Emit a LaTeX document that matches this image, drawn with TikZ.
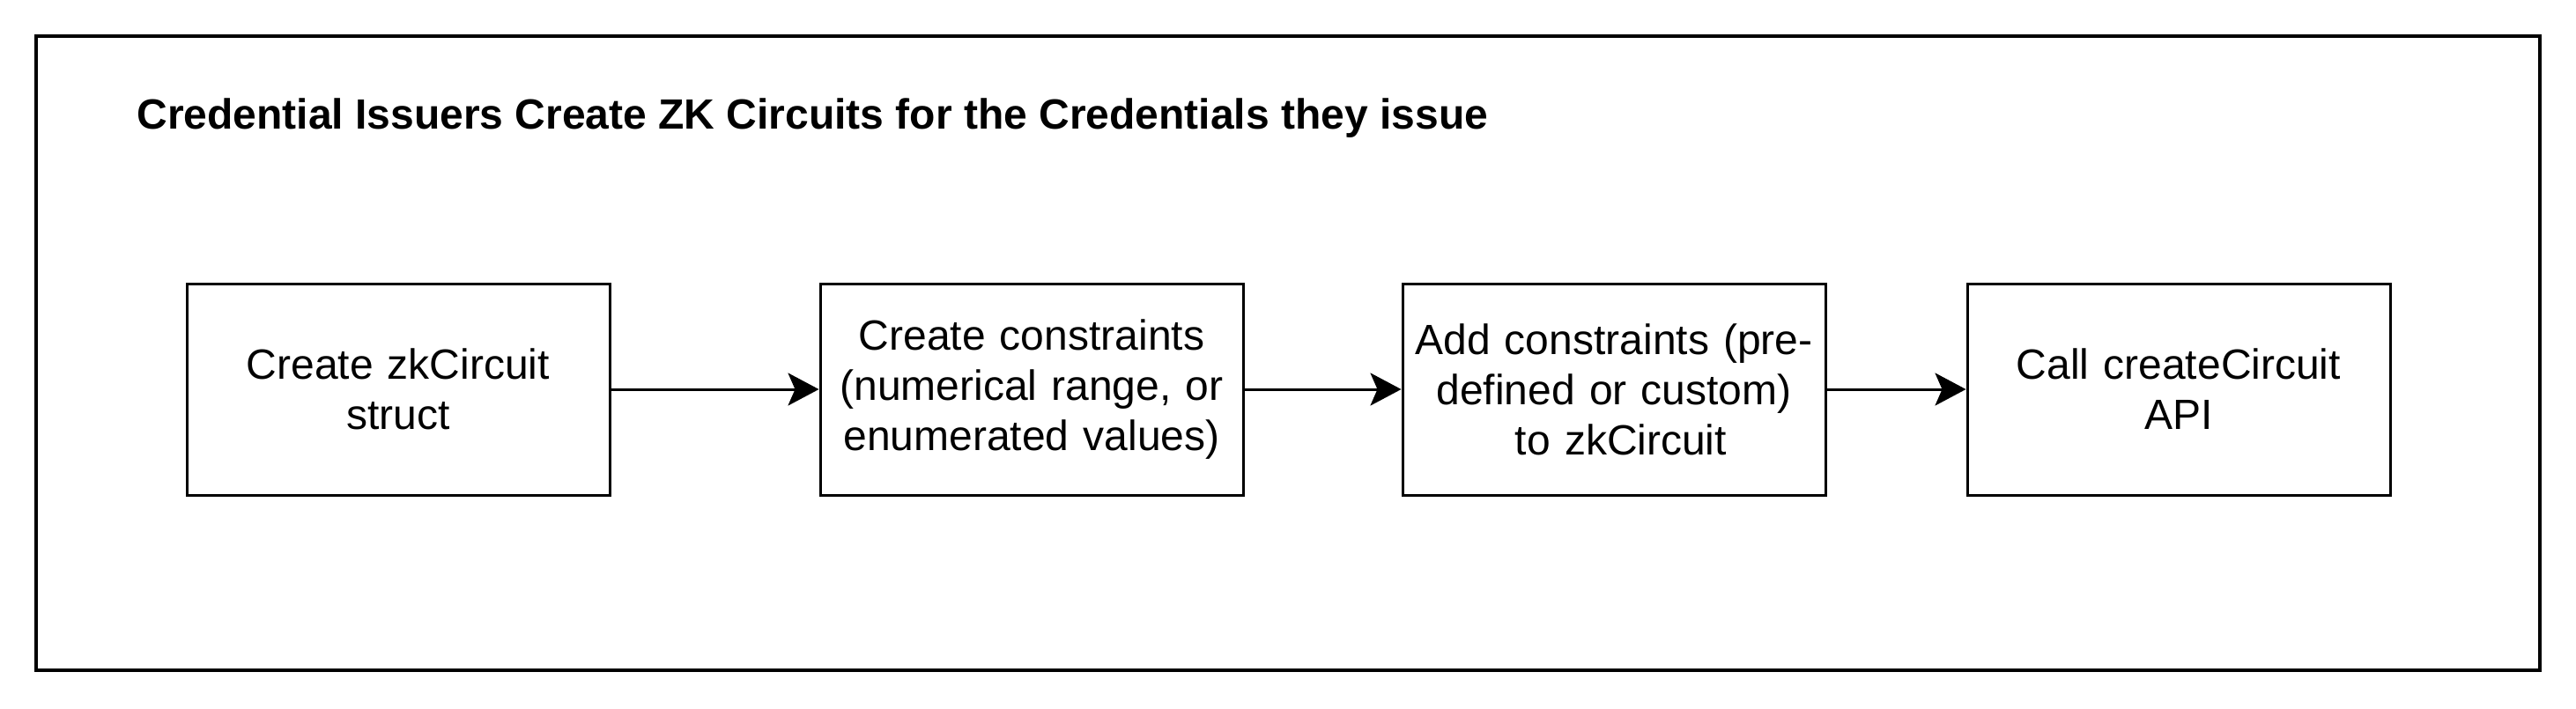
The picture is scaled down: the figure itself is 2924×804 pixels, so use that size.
\documentclass[tikz,border=0pt]{standalone}
\usepackage{fontspec}
\setmainfont{Liberation Sans}
\usepackage{tikz}
\usetikzlibrary{arrows.meta, positioning}

\begin{document}
\begin{tikzpicture}[
  x=0.5pt, y=-0.5pt,
  stepbox/.style={rectangle, draw=black, line width=1.5pt, fill=white,
             minimum width=240pt, minimum height=120pt, text width=230pt,
             align=center, inner sep=0pt,
             font=\fontsize{24}{28.5}\selectfont},
  arrow/.style={-{Stealth[length=17.5pt, width=18.5pt, inset=4pt]}, line width=1.5pt, color=black}
]

\useasboundingbox (0,0) rectangle (2924,804);
\draw[line width=2pt] (41,41) rectangle (2883,761);

\node[anchor=base west, inner sep=0pt, font=\fontsize{24}{28}\selectfont\bfseries] (title) at (155,146)
  {Credential Issuers Create ZK Circuits for the Credentials they issue};

\node[stepbox] (struct) at (452,442) {Create zkCircuit\\struct};
\node[stepbox, right=118pt of struct] (constr) {Create constraints\\(numerical range, or\\enumerated values)};
\node[stepbox, right=89pt of constr] (add) {Add constraints (pre-\\defined or custom)\\\ to zkCircuit};
\node[stepbox, right=79pt of add] (api) {Call createCircuit\\API};

\draw[arrow] (struct) -- (constr);
\draw[arrow] (constr) -- (add);
\draw[arrow] (add) -- (api);

\end{tikzpicture}
\end{document}
